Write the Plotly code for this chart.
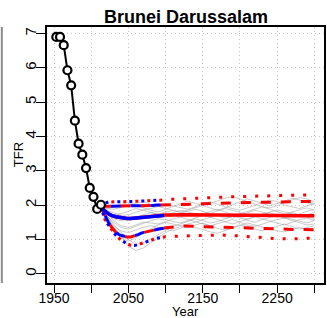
import plotly.graph_objects as go

# ---------------- data ----------------
obs_years = [1953, 1958, 1963, 1968, 1973, 1978, 1983, 1988, 1993, 1998, 2003, 2008, 2013]
obs_tfr = [6.90, 6.90, 6.66, 5.93, 5.49, 4.46, 3.79, 3.47, 3.08, 2.50, 2.24, 1.89, 2.01]

short_years = [2013, 2018, 2023, 2028, 2033, 2038, 2043, 2048, 2053, 2058, 2063, 2068, 2073, 2078, 2083, 2088, 2093, 2098]
long_years = [2100, 2125, 2150, 2175, 2200, 2225, 2250, 2275, 2300]

median_short = [1.95, 1.83, 1.75, 1.69, 1.66, 1.64, 1.62, 1.61, 1.61, 1.62, 1.63, 1.64, 1.65, 1.66, 1.67, 1.68, 1.69, 1.70]
median_long = [1.71, 1.72, 1.72, 1.71, 1.71, 1.70, 1.70, 1.69, 1.69]
up80_short = [1.95, 1.97, 1.97, 1.97, 1.97, 1.97, 1.97, 1.97, 1.97, 1.97, 1.98, 1.98, 1.98, 1.99, 1.99, 2.00, 2.00, 2.00]
up80_long = [2.00, 2.02, 2.04, 2.06, 2.07, 2.08, 2.09, 2.10, 2.11]
lo80_short = [1.95, 1.72, 1.50, 1.34, 1.21, 1.13, 1.09, 1.07, 1.07, 1.10, 1.14, 1.19, 1.22, 1.25, 1.27, 1.29, 1.31, 1.33]
lo80_long = [1.34, 1.39, 1.37, 1.35, 1.33, 1.32, 1.30, 1.29, 1.28]
up95_short = [1.95, 2.05, 2.09, 2.10, 2.10, 2.10, 2.10, 2.10, 2.10, 2.11, 2.11, 2.12, 2.12, 2.13, 2.13, 2.14, 2.15, 2.15]
up95_long = [2.16, 2.19, 2.20, 2.23, 2.25, 2.26, 2.27, 2.29, 2.30]
lo95_short = [1.95, 1.60, 1.42, 1.25, 1.12, 1.02, 0.94, 0.87, 0.83, 0.82, 0.85, 0.89, 0.93, 0.97, 1.00, 1.03, 1.05, 1.07]
lo95_long = [1.08, 1.10, 1.12, 1.13, 1.10, 1.05, 1.02, 1.02, 1.04]

traj_years = [2013] + list(range(2020, 2301, 10))
traj_1 = [1.95,1.85,1.78,1.70,1.72,1.80,1.86,1.90,1.95,2.02,1.98,1.92,1.88,1.95,2.05,2.10,2.02,1.95,1.90,1.85,1.92,2.00,2.08,2.15,2.10,2.00,1.95,1.90,1.98,2.05]
traj_2 = [1.95,1.70,1.50,1.35,1.30,1.38,1.45,1.55,1.60,1.58,1.52,1.48,1.55,1.62,1.70,1.65,1.58,1.50,1.45,1.52,1.60,1.66,1.60,1.55,1.48,1.42,1.50,1.58,1.62,1.55]
traj_3 = [1.95,1.75,1.60,1.55,1.58,1.65,1.72,1.78,1.75,1.70,1.78,1.85,1.80,1.74,1.70,1.76,1.82,1.90,1.85,1.78,1.72,1.68,1.74,1.80,1.86,1.80,1.75,1.70,1.72,1.78]
traj_4 = [1.95,1.60,1.25,1.05,0.95,1.05,1.18,1.30,1.42,1.50,1.45,1.40,1.35,1.42,1.48,1.40,1.32,1.28,1.35,1.42,1.38,1.30,1.25,1.32,1.40,1.45,1.38,1.30,1.35,1.40]
traj_5 = [1.95,1.88,1.95,2.02,2.08,2.00,1.92,1.85,1.80,1.88,1.95,2.05,2.12,2.05,1.98,1.90,1.85,1.92,2.00,2.10,2.18,2.12,2.05,1.98,2.05,2.12,2.20,2.15,2.08,2.00]
traj_6 = [1.95,1.72,1.45,1.20,1.00,0.85,0.90,1.02,1.15,1.28,1.38,1.45,1.52,1.60,1.55,1.48,1.52,1.60,1.68,1.62,1.55,1.50,1.58,1.65,1.70,1.64,1.58,1.52,1.48,1.55]
traj_7 = [1.95,1.80,1.68,1.62,1.60,1.58,1.62,1.68,1.72,1.80,1.85,1.78,1.72,1.68,1.75,1.82,1.88,1.80,1.72,1.65,1.60,1.66,1.72,1.78,1.70,1.62,1.68,1.75,1.82,1.88]
traj_8 = [1.95,1.65,1.35,1.10,0.80,0.68,0.75,0.90,1.05,1.20,1.30,1.38,1.45,1.50,1.58,1.65,1.72,1.68,1.62,1.70,1.78,1.85,1.80,1.72,1.65,1.70,1.78,1.72,1.65,1.60]
traj_9 = [1.95,1.90,1.88,1.92,1.98,2.05,2.10,2.02,1.95,1.90,1.85,1.80,1.86,1.92,1.98,2.05,2.12,2.20,2.25,2.18,2.10,2.02,1.95,1.92,1.98,2.08,2.15,2.22,2.18,2.10]
traj_10 = [1.95,1.78,1.55,1.40,1.35,1.42,1.50,1.48,1.45,1.52,1.60,1.65,1.58,1.50,1.45,1.40,1.45,1.52,1.58,1.50,1.42,1.38,1.45,1.52,1.58,1.62,1.55,1.48,1.42,1.45]
traj_11 = [1.95,1.82,1.72,1.75,1.82,1.90,1.85,1.78,1.70,1.65,1.70,1.76,1.82,1.88,1.82,1.75,1.68,1.62,1.68,1.75,1.82,1.90,1.95,1.88,1.80,1.74,1.80,1.86,1.92,1.85]
traj_12 = [1.95,1.68,1.40,1.25,1.20,1.28,1.35,1.40,1.36,1.30,1.25,1.32,1.40,1.35,1.28,1.22,1.18,1.25,1.32,1.40,1.48,1.42,1.35,1.30,1.25,1.22,1.28,1.35,1.30,1.25]
trajectories = [traj_1, traj_2, traj_3, traj_4, traj_5, traj_6, traj_7, traj_8, traj_9, traj_10, traj_11, traj_12]

x_tick_vals = [1950, 2000, 2050, 2100, 2150, 2200, 2250, 2300]
x_tick_text = ["1950", "", "2050", "", "2150", "", "2250", ""]
y_tick_vals = [0, 1, 2, 3, 4, 5, 6, 7]

title_text = "Brunei Darussalam"
x_label = "Year"
y_label = "TFR"

# ---------------- figure ----------------
FONT = "Liberation Sans, Arial, Helvetica, sans-serif"
fig = go.Figure()

for tr in trajectories:
    fig.add_trace(go.Scatter(x=traj_years, y=tr, mode="lines",
                             line=dict(color="rgba(150,150,150,0.5)", width=1),
                             hoverinfo="skip", showlegend=False))

red_years = short_years + long_years
RED = "#ff0000"
BLUE = "#0000ff"
# red (full horizon)
fig.add_trace(go.Scatter(x=red_years, y=up95_short + up95_long, mode="lines",
                         line=dict(color=RED, width=3, dash="3px,9px"), showlegend=False))
fig.add_trace(go.Scatter(x=red_years, y=lo95_short + lo95_long, mode="lines",
                         line=dict(color=RED, width=3, dash="3px,9px"), showlegend=False))
fig.add_trace(go.Scatter(x=red_years, y=up80_short + up80_long, mode="lines",
                         line=dict(color=RED, width=3, dash="10px,10px"), showlegend=False))
fig.add_trace(go.Scatter(x=red_years, y=lo80_short + lo80_long, mode="lines",
                         line=dict(color=RED, width=3, dash="10px,10px"), showlegend=False))
fig.add_trace(go.Scatter(x=red_years, y=median_short + median_long, mode="lines",
                         line=dict(color=RED, width=3.5), showlegend=False))
# blue (to 2100)
fig.add_trace(go.Scatter(x=short_years, y=up95_short, mode="lines",
                         line=dict(color=BLUE, width=3, dash="0px,6px,3px,3px"), showlegend=False))
fig.add_trace(go.Scatter(x=short_years, y=lo95_short, mode="lines",
                         line=dict(color=BLUE, width=3, dash="0px,6px,3px,3px"), showlegend=False))
fig.add_trace(go.Scatter(x=short_years, y=up80_short, mode="lines",
                         line=dict(color=BLUE, width=3, dash="0px,10px,10px,0px"), showlegend=False))
fig.add_trace(go.Scatter(x=short_years, y=lo80_short, mode="lines",
                         line=dict(color=BLUE, width=3, dash="0px,10px,10px,0px"), showlegend=False))
fig.add_trace(go.Scatter(x=short_years, y=median_short, mode="lines",
                         line=dict(color=BLUE, width=3.5), showlegend=False))

# observed
fig.add_trace(go.Scatter(x=obs_years, y=obs_tfr, mode="lines+markers",
                         line=dict(color="black", width=2),
                         marker=dict(symbol="circle", size=8, color="white",
                                     line=dict(color="black", width=2.2)),
                         showlegend=False))

fig.update_layout(
    width=327, height=318,
    margin=dict(l=47, r=1, t=27, b=35),
    paper_bgcolor="white", plot_bgcolor="white",
    font=dict(family=FONT, size=14, color="black"),
    showlegend=False,
    xaxis=dict(range=[1940.5, 2313], tickvals=x_tick_vals, ticktext=x_tick_text,
               ticks="outside", ticklen=8, tickwidth=1.3, tickcolor="black",
               ticklabelstandoff=-7,
               showline=True, mirror=True, linecolor="black", linewidth=1.5,
               showgrid=True, gridcolor="#c8c8c8", griddash="1px,3px", gridwidth=1,
               zeroline=False, tickfont=dict(size=14)),
    yaxis=dict(range=[-0.27, 7.19], tickvals=y_tick_vals,
               ticks="outside", ticklen=9, tickwidth=1.3, tickcolor="black",
               tickangle=-90, ticklabelstandoff=-6,
               showline=True, mirror=True, linecolor="black", linewidth=1.5,
               showgrid=True, gridcolor="#c8c8c8", griddash="1px,3px", gridwidth=1,
               zeroline=False, tickfont=dict(size=15)),
    annotations=[
        dict(text="<b>" + title_text + "</b>", xref="paper", yref="paper",
             x=0.5, y=(283 - 17) / 256, xanchor="center", yanchor="middle",
             showarrow=False, font=dict(size=18, family=FONT)),
        dict(text=x_label, xref="paper", yref="paper",
             x=0.5, y=(283 - 311) / 256, xanchor="center", yanchor="middle",
             showarrow=False, font=dict(size=13, family=FONT)),
        dict(text=y_label, xref="paper", yref="paper", textangle=-90,
             x=(18 - 47) / 279, y=0.5, xanchor="center", yanchor="middle",
             showarrow=False, font=dict(size=13, family=FONT)),
    ],
    shapes=[dict(type="line", xref="paper", yref="paper",
                 x0=(1.5 - 47) / 279, x1=(1.5 - 47) / 279, y0=0, y1=1,
                 line=dict(color="#8c8c8c", width=2))],
)

fig.write_html("out.html", config={"displayModeBar": False},
               post_script="document.body.style.margin='0';document.body.style.overflow='hidden';")
